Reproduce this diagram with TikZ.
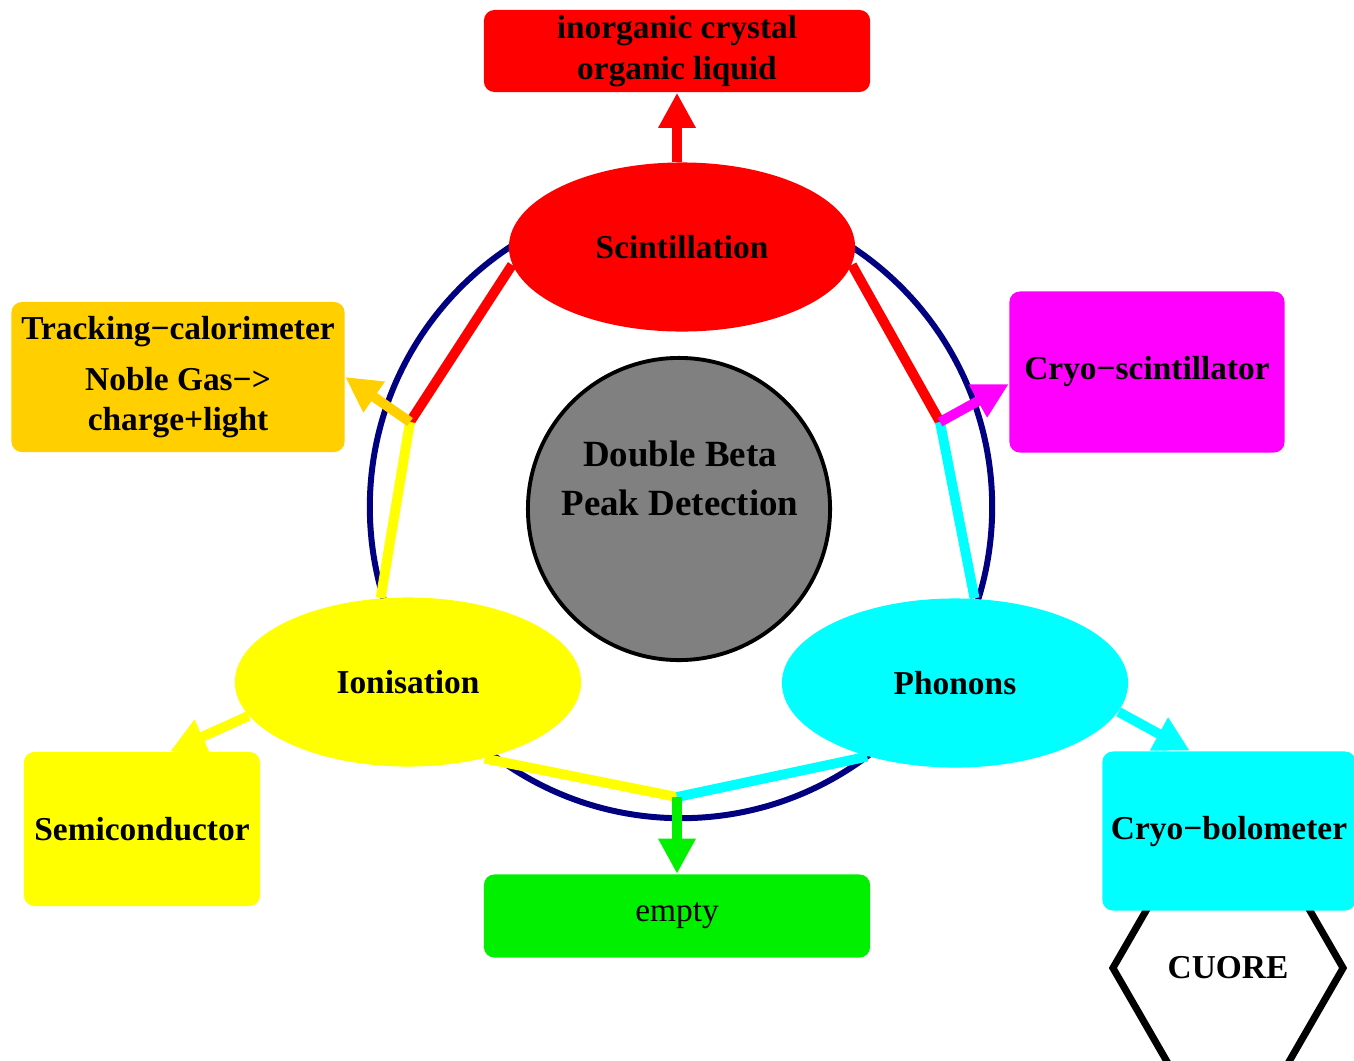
\documentclass[tikz,border=0pt]{standalone}
\usepackage{fontspec}
\setmainfont{Liberation Serif}
\usetikzlibrary{arrows.meta,positioning,shapes.geometric}
\definecolor{detred}{RGB}{255,0,0}
\definecolor{detyellow}{RGB}{255,255,0}
\definecolor{detcyan}{RGB}{0,255,255}
\definecolor{detmagenta}{RGB}{255,0,255}
\definecolor{detgreen}{RGB}{0,240,0}
\definecolor{detgold}{RGB}{255,207,0}
\definecolor{detnavy}{RGB}{0,0,128}
\definecolor{detgray}{RGB}{128,128,128}

\begin{document}
\begin{tikzpicture}[x=0.01cm,y=-0.01cm,
  font=\fontsize{9.5}{11.5}\selectfont\bfseries,
  box/.style={rectangle,rounded corners=3pt,inner sep=0pt,align=center},
  blob/.style={ellipse,inner sep=0pt,minimum width=3.46cm,minimum height=1.69cm},
  link/.style={line width=2.8pt},
  feed/.style={line width=2.8pt,-{Triangle[length=10pt,width=10pt]}}]
 \useasboundingbox[fill=white] (0,0) rectangle (1354,1060);
 \draw[detnavy,line width=1.7pt] (681,507) circle[radius=3.11cm];
 \node[regular polygon,regular polygon sides=6,draw,line width=2pt,fill=white,
  minimum size=2.3cm,inner sep=0pt] (cuore) at (1228,968) {CUORE};
 % outer boxes
 \node[box,fill=detred,minimum width=3.86cm,minimum height=0.82cm]
  (crystal) at (677,51) {inorganic crystal\\organic liquid};
 \node[box,fill=detgold,minimum width=3.33cm,minimum height=1.5cm]
  (track) at (178,377) {Tracking−calorimeter\\[3pt]Noble Gas−>\\charge+light};
 \node[box,fill=detmagenta,minimum width=2.75cm,minimum height=1.61cm]
  (cryosc) at (1147,372) {Cryo−scintillator};
 \node[box,fill=detyellow,minimum width=2.36cm,minimum height=1.54cm]
  (semi) at (142,829) {Semiconductor};
 \node[box,fill=detgreen,minimum width=3.86cm,minimum height=0.83cm,
  font=\fontsize{9.5}{11.5}\selectfont\mdseries] (empty) at (677,916) {empty};
 \node[box,fill=detcyan,minimum width=2.53cm,minimum height=1.59cm]
  (cbolo) at (1229,831) {Cryo−bolometer};
 % channels
 \node[blob,fill=detred] (scint) at (682,247) {Scintillation};
 \node[blob,fill=detyellow] (ion) at (408,682) {Ionisation};
 \node[blob,fill=detcyan] (phon) at (955,683) {Phonons};
 \node[circle,draw,line width=1.1pt,fill=detgray,minimum size=3.02cm]
  (core) at (679,509) {};
 \node[align=center,font=\fontsize{10.5}{14}\selectfont\bfseries]
  (coretext) at (680,478) {Double Beta\\Peak Detection};
 % connectors
 \coordinate (jl) at (410,422);
 \coordinate (jr) at (940,422);
 \coordinate (jb) at (677,797);
 \draw[feed,detred] (crystal.south |- scint.north) -- (crystal.south);
 \draw[link,detred] (scint.186) -- (jl);
 \draw[link,detyellow] (jl) -- (ion.108);
 \draw[feed,detgold] (jl) -- (track.east);
 \draw[link,detred] (scint.354) -- (jr);
 \draw[link,detcyan] (jr) -- (phon.77);
 \draw[feed,detmagenta] (jr) -- (cryosc.185);
 \draw[link,detyellow] (ion.315) -- (jb);
 \draw[link,detcyan] (phon.220) -- (jb);
 \draw[feed,detgreen] (jb) -- (empty.north);
 \draw[feed,detyellow] (ion.192) -- (semi.70);
 \draw[feed,detcyan] (phon.350) -- (cbolo.116);
\end{tikzpicture}
\end{document}
